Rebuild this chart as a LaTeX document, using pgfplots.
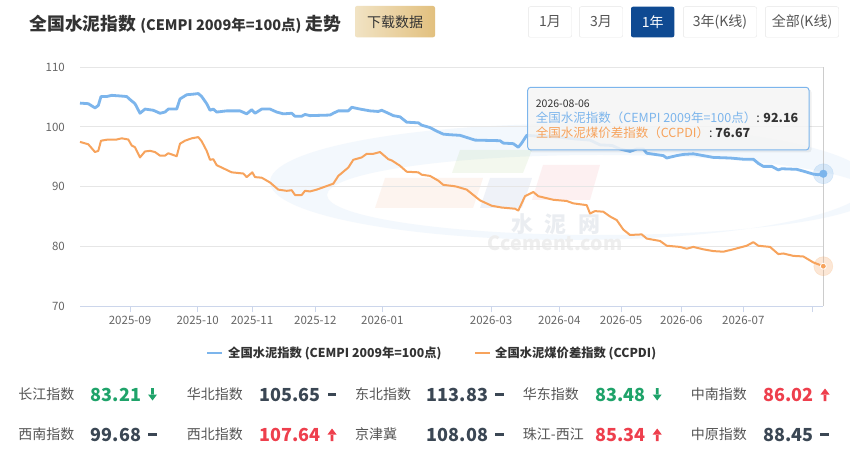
\documentclass[border=0pt]{standalone}
\usepackage{fontspec}
\setmainfont{Noto Sans CJK SC}
\usepackage{pgfplots}
\usepackage{pgfplotstable}
\pgfplotsset{compat=1.18}
\definecolor{hcblue}{HTML}{7CB5EC}
\definecolor{hcorange}{HTML}{F7A35C}
\definecolor{tickc}{HTML}{666666}
\definecolor{gridc}{HTML}{E6E6E6}
\definecolor{axisc}{HTML}{CCD6EB}
\definecolor{navy}{HTML}{0F4A92}
\definecolor{upred}{HTML}{EE3F4D}
\definecolor{dngreen}{HTML}{1FA36A}
\definecolor{valdark}{HTML}{3B4754}
\definecolor{labgray}{HTML}{555555}
\definecolor{txt}{HTML}{333333}
\definecolor{btnb}{HTML}{E6E6E6}
\newcommand\fs[1]{\fontsize{#1bp}{#1bp}\selectfont}

\pgfplotstableread{
x y
80 104.0
88.3 103.9
95 103.2
98.3 103.6
101 105.1
106.7 105.1
111.7 105.3
120 105.2
126.7 105.1
130 104.6
135 103.9
140 102.3
145 103.0
153.3 102.8
160 102.3
165 102.5
168.3 103.0
176.7 103.0
180 104.7
186.7 105.4
193.3 105.5
198.3 105.6
201.7 105.1
206.7 103.9
210 102.8
213.3 103.0
216.7 102.5
226.7 102.7
240 102.7
246.7 102.2
251.7 102.9
255 102.3
261.7 103.0
270 103.0
276.7 102.5
283.3 102.2
291.7 102.3
295 101.8
301.7 101.8
305 102.1
310 101.9
330 102.0
333.3 102.3
338.3 102.7
348.3 102.7
351.7 103.3
360 103.0
370 102.7
378.3 102.6
381.7 102.8
388.3 102.3
393.3 101.9
400 101.7
406.7 100.8
418.3 100.7
421.7 100.3
430 99.9
436.7 99.3
443.3 98.8
450 98.7
460 98.6
475 97.8
500 97.7
503.3 97.3
513.3 97.2
518.3 96.6
521.7 97.3
526.7 98.6
535 98.5
560 98.3
575 98.0
590 97.8
600 97.0
612 96.9
620 96.3
630 95.9
636.7 96.3
643.3 96.3
646.7 95.6
663.3 95.2
666.7 94.8
676.7 95.2
683.3 95.4
693.3 95.5
703.3 95.2
713.3 94.9
730 94.8
743.3 94.6
753.3 94.6
758.3 93.9
763.3 93.4
771.7 93.4
778.3 92.8
781.7 93.0
796.7 92.9
803.3 92.6
813.3 92.1
818 92.0
823.3 92.16
}\cempi

\pgfplotstableread{
x y
80 97.5
88.3 97.1
95 95.8
98.3 96.0
101 97.7
108.3 97.9
116.7 97.9
121.7 98.1
128.3 97.9
131.7 96.9
135 96.6
140 94.9
145 95.9
150 96.0
155 95.8
160 95.2
165 95.2
168.3 95.6
176.7 95.1
180 97.2
185 97.7
191.7 98.1
198.3 98.3
201.7 97.6
206.7 96.0
210 94.5
213.3 94.6
216.7 93.6
221.7 93.2
231.7 92.4
243.3 92.2
246.7 91.6
252.3 92.4
255 91.6
261.7 91.5
270 90.7
278.3 89.5
286.7 89.3
291.7 89.4
295 88.6
301.7 88.6
305 89.3
310 89.2
316.7 89.5
326.7 90.1
333.3 90.5
338.3 91.8
348.3 93.2
353.3 94.5
361.7 94.9
366.7 95.5
373.3 95.5
380 95.8
388.3 94.6
391.7 94.4
400 93.5
406.7 92.5
418.3 92.4
421.7 92.0
430 91.8
438.3 91.0
443.3 90.3
453.3 90.1
456.7 90.0
466.7 89.5
480 87.7
491.7 86.8
501.7 86.5
515 86.3
518.3 86.0
525 88.4
533.3 89.1
538.3 88.4
553.3 87.8
566.7 87.6
573.3 87.2
586.7 86.9
590 85.5
595 85.9
603.3 85.8
610 85.0
616.7 84.4
623.3 82.8
630 81.9
641.7 82.0
646.7 81.3
660 80.9
666.7 80.1
680 79.9
686.7 79.6
693.3 79.9
703.3 79.5
713.3 79.2
723.3 79.1
733.3 79.5
746.7 80.1
753.3 80.7
758.3 80.1
770 79.9
778.3 78.7
783.3 78.8
793.3 78.4
803.3 78.3
813.3 77.3
823.3 76.67
}\ccpdi

\begin{document}
\begin{tikzpicture}
\begin{scope}[x=1bp,y=-1bp]
\path[use as bounding box,fill=white] (0,0) rectangle (850,454);
% title
\node[anchor=west,inner sep=0,text=txt] at (29.3,24.5) {\bfseries\fs{17.8}全国水泥指数 {\fs{14.5}(CEMPI 2009年=100点)} 走势};
% download button
\shade[left color={rgb,255:red,241;green,227;blue,196},right color={rgb,255:red,226;green,192;blue,126},rounded corners=2bp] (355,6) rectangle (435,37.3);
\node[text=txt,inner sep=0] at (395,21.8) {\fs{14}下载数据};
% range buttons
\draw[btnb,fill=white,rounded corners=2bp] (528.3,6.7) rectangle (571.7,37.3);
\node[text=labgray,inner sep=0] at (550,21.8) {\fs{14}1月};
\draw[btnb,fill=white,rounded corners=2bp] (579.3,6.7) rectangle (622.7,37.3);
\node[text=labgray,inner sep=0] at (601,21.8) {\fs{14}3月};
\fill[navy,rounded corners=2bp] (631,6.7) rectangle (674.3,37.3);
\node[text=white,inner sep=0] at (652.7,21.8) {\fs{14}1年};
\draw[btnb,fill=white,rounded corners=2bp] (683.3,6.7) rectangle (756.7,37.3);
\node[text=labgray,inner sep=0] at (720,21.8) {\fs{14}3年(K线)};
\draw[btnb,fill=white,rounded corners=2bp] (765.3,6.7) rectangle (838.7,37.3);
\node[text=labgray,inner sep=0] at (802,21.8) {\fs{14}全部(K线)};
% watermark
\fill[even odd rule,color={rgb,255:red,243;green,248;blue,253}] (570,182) ellipse (300 and 58) (600,195) ellipse (273 and 40);
\fill[color={rgb,255:red,144;green,192;blue,96},opacity=0.10] (460,150) -- (532,150) -- (523,173) -- (452,173) -- cycle;
\fill[color={rgb,255:red,244;green,150;blue,100},opacity=0.10] (385,178) -- (483,178) -- (473,208) -- (375,208) -- cycle;
\fill[color={rgb,255:red,100;green,130;blue,190},opacity=0.10] (490,178) -- (532,178) -- (522,208) -- (480,208) -- cycle;
\fill[color={rgb,255:red,240;green,110;blue,120},opacity=0.10] (543,165) -- (600,165) -- (590,200) -- (532,200) -- cycle;
\node[text={rgb,255:red,234;green,237;blue,241},inner sep=0] at (556,224) {\bfseries\fs{22}水\hspace{12bp}泥\hspace{12bp}网};
\node[text={rgb,255:red,238;green,238;blue,238},inner sep=0] at (555,243.5) {\bfseries\fs{19.5}Ccement.com};
\end{scope}

\begin{axis}[
  at={(80bp,-306bp)}, anchor=south west,
  scale only axis, width=743.3bp, height=238.7bp,
  xmin=80, xmax=823.3, ymin=70, ymax=110,
  clip=false,
  axis x line*=bottom, axis y line*=left,
  y axis line style={draw=none},
  x axis line style={draw=axisc,line width=1bp,-},
  ytick={70,80,90,100,110},
  ytick style={draw=none},
  ymajorgrids, grid style={draw=gridc,line width=1bp},
  xtick={130,197.7,252,315.3,382.3,491,559.3,621,681.3,743.3,812.3},
  xticklabels={2025-09,2025-10,2025-11,2025-12,2026-01,2026-03,2026-04,2026-05,2026-06,2026-07,{}},
  tick align=outside,
  xtick style={draw=axisc,line width=1bp},
  major tick length=6bp,
  xticklabel style={font=\fs{11.5},text=tickc,inner sep=0,anchor=center,yshift=-8.5bp},
  yticklabel style={font=\fs{11.5},text=tickc,inner sep=0,anchor=east,xshift=-9bp},
  /pgf/number format/assume math mode=true,
]
\draw[color={rgb,255:red,204;green,204;blue,204},line width=1bp] (axis cs:823.3,70) -- (axis cs:823.3,110);
\addplot[hcblue,line width=2.8bp,line join=round] table[x=x,y=y] {\cempi};
\addplot[hcorange,line width=2bp,line join=round] table[x=x,y=y] {\ccpdi};
\addplot[only marks,mark=*,mark size=10bp,color=hcblue,opacity=0.25] coordinates {(823.3,92.16)};
\addplot[only marks,mark=*,mark size=3.8bp,color=hcblue] coordinates {(823.3,92.16)};
\addplot[only marks,mark=*,mark size=9.5bp,color=hcorange,opacity=0.25] coordinates {(823.3,76.67)};
\addplot[only marks,mark=*,mark size=3bp,color=hcorange,mark options={draw=white,line width=0.8bp}] coordinates {(823.3,76.67)};
\end{axis}

\begin{scope}[x=1bp,y=-1bp]
% tooltip
\fill[black,opacity=0.06,rounded corners=3bp] (529.7,89.3) rectangle (811.5,152.5);
\filldraw[fill={rgb,255:red,247;green,247;blue,247},fill opacity=0.86,draw=hcblue,line width=1bp,rounded corners=3bp] (527.7,87.3) rectangle (809,150);
\node[anchor=west,inner sep=0,text=txt] at (535.7,103.3) {\fs{10.5}2026-08-06};
\node[anchor=west,inner sep=0] at (535.7,118.2) {\fs{12.5}\textcolor{hcblue}{全国水泥指数（CEMPI 2009年=100点）}\textcolor{txt}{: \bfseries 92.16}};
\node[anchor=west,inner sep=0] at (535.7,133.2) {\fs{12.5}\textcolor{hcorange}{全国水泥煤价差指数（CCPDI）}\textcolor{txt}{: \bfseries 76.67}};
% legend
\draw[hcblue,line width=2bp] (207,353.5) -- (222,353.5);
\node[anchor=west,inner sep=0,text=txt] at (228,353.5) {\bfseries\fs{12.3}全国水泥指数 (CEMPI 2009年=100点)};
\draw[hcorange,line width=2bp] (475,353.5) -- (490,353.5);
\node[anchor=west,inner sep=0,text=txt] at (495,353.5) {\bfseries\fs{12.3}全国水泥煤价差指数 (CCPDI)};
% stats
\def\lab#1#2#3{\node[anchor=west,inner sep=0,text=labgray] at (#1,#2) {\fs{14}#3};}
\def\val#1#2#3#4{\node[anchor=west,inner sep=0,text=#3] at (#1,#2) {\bfseries\fs{18}#4};}
\def\dash#1#2{\fill[valdark] (#1,#2-1.5) rectangle (#1+8.5,#2+1.5);}
\def\dn#1#2{\fill[dngreen] (#1+3.2,#2-6.5) rectangle (#1+5.8,#2+0.5) (#1,#2) -- (#1+9,#2) -- (#1+4.5,#2+6) -- cycle;}
\def\up#1#2{\fill[upred] (#1+3.2,#2+6.5) rectangle (#1+5.8,#2-0.5) (#1,#2) -- (#1+9,#2) -- (#1+4.5,#2-6) -- cycle;}
\lab{18.3}{394.5}{长江指数}\val{90.7}{394.5}{dngreen}{83.21}\dn{148}{394.5}
\lab{186.7}{394.5}{华北指数}\val{259.3}{394.5}{valdark}{105.65}\dash{327.5}{394.5}
\lab{355}{394.5}{东北指数}\val{426.7}{394.5}{valdark}{113.83}\dash{495}{394.5}
\lab{522.7}{394.5}{华东指数}\val{595}{394.5}{dngreen}{83.48}\dn{652.7}{394.5}
\lab{690.7}{394.5}{中南指数}\val{763.3}{394.5}{upred}{86.02}\up{820.5}{394.5}
\lab{18.3}{434.5}{西南指数}\val{90.7}{434.5}{valdark}{99.68}\dash{148}{434.5}
\lab{186.7}{434.5}{西北指数}\val{259.3}{434.5}{upred}{107.64}\up{327.5}{434.5}
\lab{355}{434.5}{京津冀}\val{426.7}{434.5}{valdark}{108.08}\dash{495}{434.5}
\lab{522.7}{434.5}{珠江-西江}\val{595}{434.5}{upred}{85.34}\up{652.7}{434.5}
\lab{690.7}{434.5}{中原指数}\val{763.3}{434.5}{valdark}{88.45}\dash{820}{434.5}
\end{scope}
\end{tikzpicture}
\end{document}
